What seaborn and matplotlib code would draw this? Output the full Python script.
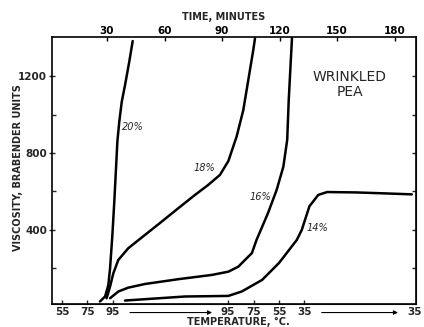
import matplotlib
matplotlib.use("Agg")
import matplotlib.pyplot as plt
import seaborn as sns
import pandas as pd

# ---- data (time in minutes, viscosity in Brabender units) ----
t20 = [26.3, 29.0, 30.7, 31.6, 32.8, 33.8, 34.7, 35.4, 36.4, 37.7, 39.4, 41.6, 43.4]
v20 = [28, 54, 114, 201, 374, 547, 721, 859, 963, 1067, 1153, 1274, 1382]

t18 = [29.8, 31.6, 33.3, 35.9, 41.1, 49.8, 58.5, 67.2, 75.9, 82.8, 88.9, 93.3, 97.6, 101.1, 103.7, 106.3, 107.2]
v18 = [45, 106, 175, 244, 305, 374, 443, 513, 582, 634, 686, 758, 885, 1023, 1179, 1335, 1396]

t16 = [31.6, 35.9, 41.1, 49.8, 67.2, 84.6, 93.3, 98.5, 102.0, 105.6, 108.0, 114.0, 118.5, 122.0, 124.0, 124.8, 126.5]
v16 = [45, 80, 100, 119, 144, 166, 183, 209, 244, 280, 348, 488, 608, 729, 868, 1075, 1397]

t14 = [39.4, 70.7, 93.3, 100.3, 110.9, 119.8, 129.0, 131.6, 135.6, 140.2, 144.8, 160.0, 175.0, 189.0]
v14 = [33, 54, 57, 80, 140, 229, 348, 400, 523, 582, 597, 595, 590, 585]

series_labels = ["20%", "18%", "16%", "14%"]
label_pos_t = [43.5, 81.0, 110.0, 140.0]
label_pos_v = [935, 722, 571, 410]

time_ticks = [30, 60, 90, 120, 150, 180]
temp_tick_t = [6.5, 19.8, 33.1, 93.1, 106.6, 119.8, 133.0]
temp_tick_labels = ["55", "75", "95", "95", "75", "55", "35"]
y_major = [400, 800, 1200]
y_minor = [200, 600, 1000]

frames = []
for name, t, v in zip(series_labels, [t20, t18, t16, t14], [v20, v18, v16, v14]):
    frames.append(pd.DataFrame({"time": t, "visc": v, "conc": name}))
df = pd.concat(frames, ignore_index=True)

sns.set_style("ticks")
plt.rcParams["font.family"] = ["DejaVu Sans"]

fig = plt.figure(figsize=(4.24, 3.27), dpi=100)
W, H = 424, 327
L, R, T, B = 52, 416, 37, 304
ax = fig.add_axes([L / W, 1 - B / H, (R - L) / W, (B - T) / H])

sns.lineplot(data=df, x="time", y="visc", units="conc", estimator=None,
             sort=False, color="black", lw=1.8, ax=ax, legend=False)
for ln in ax.get_lines():
    ln.set_solid_joinstyle("round")
    ln.set_solid_capstyle("round")

ax.set_xlim(1.3, 191.2)
ax.set_ylim(15, 1403)

for s in ax.spines.values():
    s.set_linewidth(1.2)
    s.set_color("black")

# top: time axis
ax.xaxis.tick_top()
ax.set_xticks(time_ticks)
ax.set_xticklabels([str(x) for x in time_ticks])
ax.tick_params(axis="x", which="major", direction="in", length=3, width=1,
               labelsize=7.5, pad=1, colors="black")
for lb in ax.get_xticklabels():
    lb.set_fontweight("bold")
ax.set_xlabel("")

# left: viscosity
ax.set_yticks(y_major)
ax.set_yticklabels([str(y) for y in y_major])
ax.set_yticks(y_minor, minor=True)
ax.tick_params(axis="y", which="major", direction="inout", length=5, width=1,
               labelsize=7.5, pad=1, right=False)
ax.tick_params(axis="y", which="minor", direction="in", length=3, width=1)
for lb in ax.get_yticklabels():
    lb.set_fontweight("bold")
ax.set_ylabel("")

# right ticks (unlabelled)
axr = ax.secondary_yaxis("right")
axr.set_yticks(y_minor + y_major)
axr.set_yticklabels([])
axr.tick_params(direction="in", length=3, width=1)

# bottom: temperature axis
axb = ax.secondary_xaxis("bottom")
axb.set_xticks(temp_tick_t)
axb.set_xticklabels(temp_tick_labels)
axb.tick_params(direction="in", length=3, width=1, labelsize=7.5, pad=2)
for lb in axb.get_xticklabels():
    lb.set_fontweight("bold")

tr = ax.get_xaxis_transform()
ax.text(190.6, -0.011, "35", transform=tr, ha="center", va="top",
        fontsize=7.5, fontweight="bold", clip_on=False)
for x0, x1 in [(42.0, 84.8), (142.0, 181.8)]:
    ax.annotate("", xy=(x1, -0.032), xytext=(x0, -0.032), xycoords=tr,
                textcoords=tr, annotation_clip=False,
                arrowprops=dict(arrowstyle="-|>", lw=0.8, color="black",
                                mutation_scale=6, shrinkA=0, shrinkB=0))

# curve labels
for lab, lt, lv in zip(series_labels, label_pos_t, label_pos_v):
    ax.text(lt, lv, lab, fontsize=7, style="italic", ha="center", va="center")

ax.text(156.7, 1158, "WRINKLED\nPEA", fontsize=10, ha="center", va="center",
        linespacing=1.1)

# axis titles
fig.text(224 / W, 1 - 17 / H, "TIME, MINUTES", ha="center", va="center",
         fontsize=7, fontweight="bold")
fig.text(238 / W, 1 - 322 / H, "TEMPERATURE, °C.", ha="center", va="center",
         fontsize=7, fontweight="bold")
fig.text(18 / W, 1 - 168 / H, "VISCOSITY, BRABENDER UNITS", ha="center",
         va="center", rotation=90, fontsize=7, fontweight="bold")

fig.savefig("out.png", dpi=100)
